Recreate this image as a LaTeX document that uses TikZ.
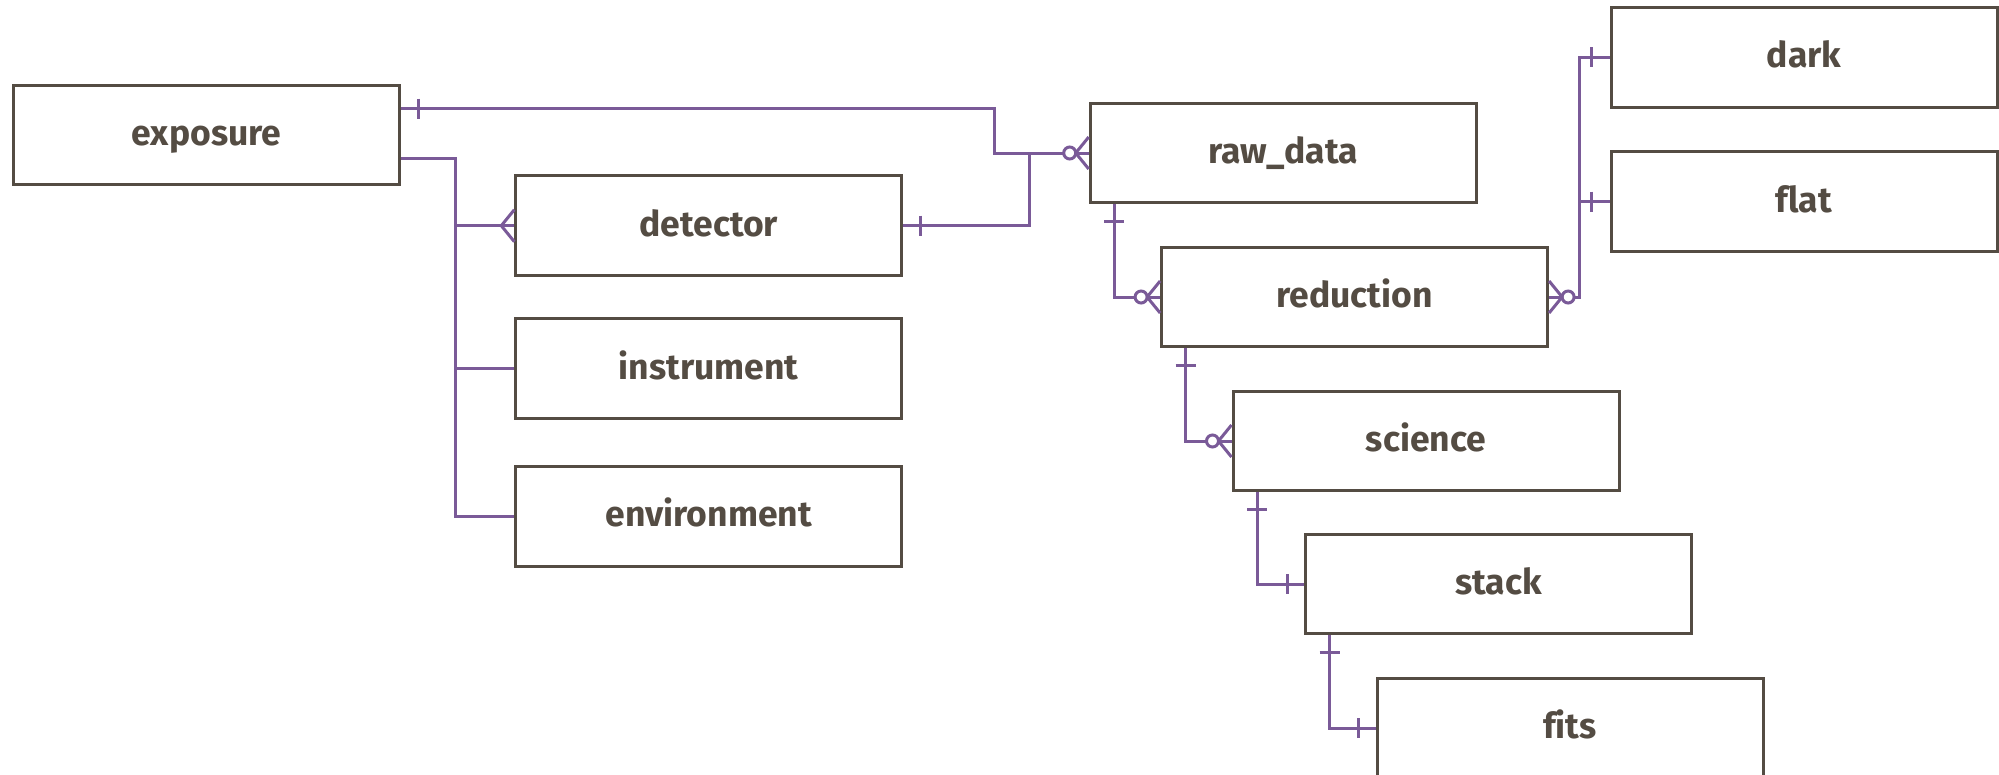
\documentclass[tikz,border=0pt]{standalone}
\usepackage{fontspec}
\setmainfont{Fira Sans}[Ligatures=NoCommon]
\usetikzlibrary{calc}
\definecolor{boxc}{HTML}{544C43}
\definecolor{relc}{HTML}{7A5A98}
\tikzset{
  entity/.style={draw=boxc, line width=3pt, fill=white,
    minimum width=386pt, minimum height=99.5pt, inner sep=0pt,
    text height=21pt, text depth=0pt,
    text=boxc, font=\fontsize{35.5}{40}\selectfont\bfseries},
  rel/.style={draw=relc, line width=3pt},
}
% crow's foot on a west / east side at point #1
\newcommand\crowW[1]{\draw[rel] ($(#1)+(0,-16)$) -- ($(#1)+(-13,0)$) -- ($(#1)+(0,16)$);}
\newcommand\crowE[1]{\draw[rel] ($(#1)+(0,-16)$) -- ($(#1)+(13,0)$) -- ($(#1)+(0,16)$);}
% ring (zero) beside a crow's foot
\newcommand\ringW[1]{\draw[rel, fill=white] ($(#1)+(-19,0)$) circle (6);}
\newcommand\ringE[1]{\draw[rel, fill=white] ($(#1)+(19,0)$) circle (6);}
% single bar across a horizontal line (#2 = x offset) or vertical line (#2 = y offset)
\newcommand\barH[2]{\draw[rel] ($(#1)+(#2,-10)$) -- ($(#1)+(#2,10)$);}
\newcommand\barV[2]{\draw[rel] ($(#1)+(-10,#2)$) -- ($(#1)+(10,#2)$);}
\begin{document}
\begin{tikzpicture}[x=1pt,y=-1pt]
\useasboundingbox (0,0) rectangle (1999,774);

% entities
\node[entity] (exposure)    at (206.5,135.2) {exposure};
\node[entity] (detector)    at (708.8,225.7) {detector};
\node[entity] (instrument)  at (708.8,368.5) {instrument};
\node[entity] (environment) at (708.8,516.3) {environment};
\node[entity] (raw)         at (1283.2,153)  {raw\_data};
\node[entity] (reduction)   at (1354.6,297)  {reduction};
\node[entity] (science)     at (1426,441)    {science};
\node[entity] (stack)       at (1498.6,584)  {stack};
\node[entity] (fits)        at (1570,728)    {fits};
\node[entity] (dark)        at (1804,57.4)   {dark};
\node[entity] (flat)        at (1804,201.5)  {flat};

% exposure -> raw_data
\coordinate (e1) at ($(exposure.north east)+(0,24.6)$);
\draw[rel] (e1) -| ($(raw.west)+(-94.3,0)$) -- (raw.west);
\barH{e1}{17}
% detector -> raw_data
\draw[rel] (detector.east) -| ($(raw.west)+(-59,0)$) -- (raw.west);
\barH{detector.east}{17}
\crowW{raw.west}
\ringW{raw.west}

% exposure -> detector / instrument / environment
\coordinate (e2) at ($(exposure.south east)+(0,-28)$);
\draw[rel] (e2) -| ($(detector.west)+(-58.6,0)$) -- (detector.west);
\draw[rel] (e2) -| ($(instrument.west)+(-58.6,0)$) -- (instrument.west);
\draw[rel] (e2) -| ($(environment.west)+(-58.6,0)$) -- (environment.west);
\crowW{detector.west}

% raw_data -> reduction
\coordinate (r1) at ($(raw.south west)+(25.5,0)$);
\draw[rel] (r1) |- (reduction.west);
\barV{r1}{17}
\crowW{reduction.west}
\ringW{reduction.west}

% reduction -> science
\coordinate (r2) at ($(reduction.south west)+(25.5,0)$);
\draw[rel] (r2) |- (science.west);
\barV{r2}{17}
\crowW{science.west}
\ringW{science.west}

% science -> stack
\coordinate (r3) at ($(science.south west)+(25.5,0)$);
\draw[rel] (r3) |- (stack.west);
\barV{r3}{17}
\barH{stack.west}{-17}

% stack -> fits
\coordinate (r4) at ($(stack.south west)+(25.5,0)$);
\draw[rel] (r4) |- (fits.west);
\barV{r4}{17}
\barH{fits.west}{-17}

% reduction -> dark / flat
\draw[rel] (reduction.east) -- ++(30.6,0) |- (dark.west);
\draw[rel] (reduction.east) -- ++(30.6,0) |- (flat.west);
\barH{dark.west}{-17.7}
\barH{flat.west}{-17.7}
\crowE{reduction.east}
\ringE{reduction.east}
\end{tikzpicture}
\end{document}
